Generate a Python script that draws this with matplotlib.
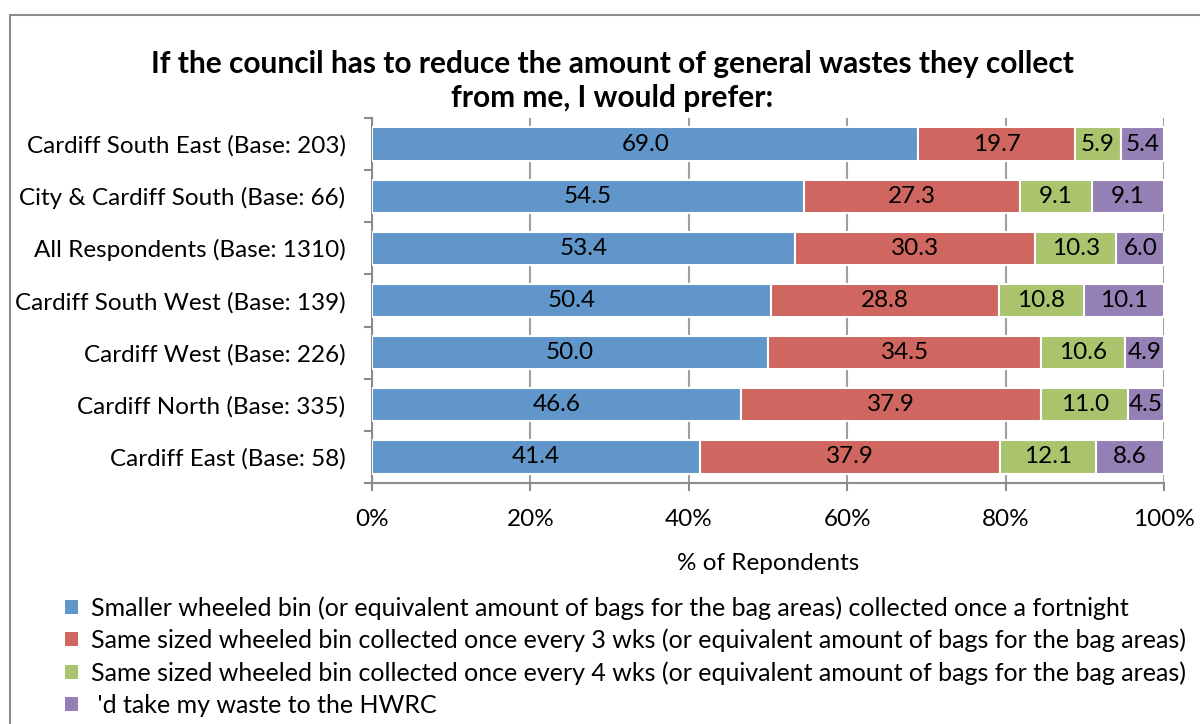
import numpy as np
import matplotlib
matplotlib.use('Agg')
import matplotlib.pyplot as plt
from matplotlib.patches import Patch, Rectangle

plt.rcParams['font.family'] = ['Lato', 'DejaVu Sans']

areas = ['Cardiff South East (Base: 203)', 'City & Cardiff South (Base: 66)',
         'All Respondents (Base: 1310)', 'Cardiff South West (Base: 139)',
         'Cardiff West (Base: 226)', 'Cardiff North (Base: 335)',
         'Cardiff East (Base: 58)']
smaller_bin = [69.0, 54.5, 53.4, 50.4, 50.0, 46.6, 41.4]
every_3_wks = [19.7, 27.3, 30.3, 28.8, 34.5, 37.9, 37.9]
every_4_wks = [5.9, 9.1, 10.3, 10.8, 10.6, 11.0, 12.1]
hwrc = [5.4, 9.1, 6.0, 10.1, 4.9, 4.5, 8.6]

series_names = ['Smaller wheeled bin (or equivalent amount of bags for the bag areas) collected once a fortnight',
                'Same sized wheeled bin collected once every 3 wks (or equivalent amount of bags for the bag areas)',
                'Same sized wheeled bin collected once every 4 wks (or equivalent amount of bags for the bag areas)',
                " 'd take my waste to the HWRC"]
colours = ['#6096C9', '#CF665F', '#A9C46C', '#9480B5']

vals = np.array([smaller_bin, every_3_wks, every_4_wks, hwrc])
pct = vals / vals.sum(axis=0) * 100  # 100% stacked

fig = plt.figure(figsize=(12, 7.24), dpi=100)
# chart area border (runs off the right and bottom of the image)
fig.patches.append(Rectangle((10 / 1200, -0.1), 1.1, 1 - 15 / 724 + 0.1,
                             transform=fig.transFigure, fill=False,
                             edgecolor='#8C8C8C', linewidth=1.5))

ax = fig.add_axes([372 / 1200, 1 - 483 / 724, (1164 - 372) / 1200, (483 - 118) / 724])
y = np.arange(len(areas))
left = np.zeros(len(areas))
for i in range(4):
    bars = ax.barh(y, pct[i], left=left, height=0.64, color=colours[i],
                   edgecolor='white', linewidth=1.5, label=series_names[i], zorder=3)
    ax.bar_label(bars, labels=['%.1f' % v for v in vals[i]], label_type='center',
                 fontsize=17.5, color='black')
    left += pct[i]

ax.set_xlim(0, 100)
ax.set_ylim(len(areas) - 0.5, -0.5)
ax.set_xticks(np.arange(0, 101, 20))
ax.set_xticklabels(['%d%%' % t for t in range(0, 101, 20)])
ax.set_yticks(np.arange(-0.5, len(areas), 1))
ax.set_yticklabels([])
ax.set_yticks(y, minor=True)
ax.set_yticklabels(areas, minor=True)
ax.tick_params(axis='y', which='major', direction='out', length=6, width=1.5, color='#8C8C8C')
ax.tick_params(axis='y', which='minor', length=0, pad=19, labelsize=17.5)
ax.tick_params(axis='x', direction='out', length=6, width=1.5, color='#8C8C8C',
               pad=13, labelsize=17.5)
ax.grid(axis='x', color='#A0A0A0', linewidth=1.5, zorder=0)
for s in ['top', 'right']:
    ax.spines[s].set_visible(False)
for s in ['left', 'bottom']:
    ax.spines[s].set_color('#8C8C8C')
    ax.spines[s].set_linewidth(1.5)
ax.set_xlabel('% of Repondents', fontsize=17.5, labelpad=16)

fig.text(612 / 1200, 1 - 81 / 724,
         'If the council has to reduce the amount of general wastes they collect\nfrom me, I would prefer:',
         ha='center', va='center', fontsize=21.5, fontweight='bold', linespacing=1.25)

handles = [Patch(facecolor=c, edgecolor='none') for c in colours]
fig.legend(handles, series_names, loc='upper left', bbox_to_anchor=(55 / 1200, 1 - 586 / 724),
           frameon=False, fontsize=18, handlelength=0.5, handleheight=0.5,
           handletextpad=0.55, labelspacing=0.36, borderaxespad=0)

fig.savefig('out.png', dpi=100)
